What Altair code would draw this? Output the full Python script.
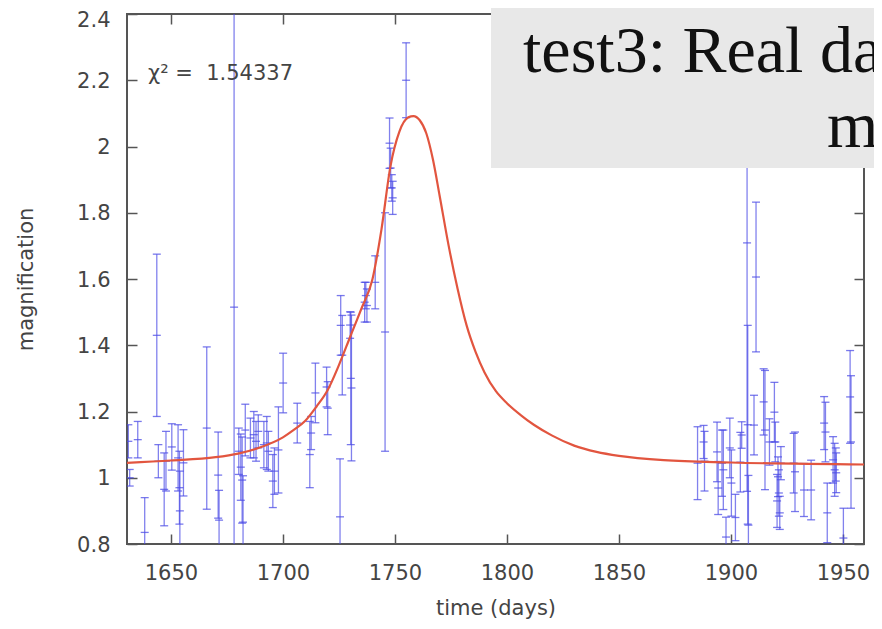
import altair as alt
import pandas as pd

# ---------------- data ----------------
days = [1631.0, 1631.6, 1635.2, 1638.3, 1643.7, 1644.4, 1647.0, 1647.8, 1650.4,
        1653.2, 1653.8, 1654.0, 1655.6, 1666.0, 1671.1, 1671.5, 1678.2,
        1680.3, 1681.2, 1681.8, 1682.2, 1683.2, 1685.5, 1687.0, 1688.0, 1689.0,
        1691.5, 1692.8, 1693.5, 1695.5, 1696.2, 1698.0, 1700.1, 1706.4,
        1712.0, 1712.6, 1714.5, 1719.5, 1720.0, 1725.5, 1725.8, 1726.5,
        1730.0, 1730.3, 1730.6, 1736.5, 1737.0, 1737.5, 1741.2, 1745.6,
        1747.6, 1748.1, 1748.6, 1749.0, 1755.0,
        1885.1, 1887.8, 1888.2, 1893.8, 1894.3, 1896.0, 1896.6, 1897.8,
        1899.5, 1900.2, 1902.0, 1904.2, 1904.8, 1907.2, 1907.5, 1907.8,
        1910.3, 1911.2, 1914.6, 1915.2, 1917.2, 1919.4, 1919.8, 1920.6,
        1921.0, 1921.4, 1921.8, 1922.3, 1928.0, 1928.6, 1932.6, 1935.8,
        1941.6, 1942.2, 1943.0, 1945.6, 1946.3, 1946.8, 1947.0, 1950.2,
        1953.2, 1953.6]
mags = [1.11, 1.00, 1.115, 0.835, 1.43, 1.05, 0.965, 1.05, 1.093,
        1.06, 0.97, 0.90, 1.045, 1.15, 1.008, 0.872, 1.515,
        1.08, 1.032, 0.993, 0.866, 1.144, 1.12, 1.13, 1.11, 1.14,
        1.10, 1.105, 1.08, 0.99, 1.02, 1.084, 1.286, 1.165,
        1.07, 1.135, 1.256, 1.274, 1.21, 0.882, 1.46, 1.37,
        1.461, 1.30, 1.271, 1.53, 1.55, 1.52, 1.59, 1.44,
        2.01, 1.935, 1.875, 1.845, 2.20,
        1.044, 1.108, 1.05, 1.078, 0.969, 1.044, 1.024, 0.821,
        1.09, 0.984, 0.88, 1.047, 1.129, 1.709, 1.16, 0.857,
        1.159, 1.606, 1.229, 1.144, 1.108, 1.198, 1.108, 0.93,
        1.003, 0.954, 0.894, 1.044, 1.044, 1.018, 0.963, 0.963,
        1.165, 1.138, 0.894, 1.054, 1.024, 1.04, 1.015, 0.818,
        1.244, 1.108]
errs = [0.05, 0.025, 0.055, 0.105, 0.245, 0.05, 0.11, 0.09, 0.07,
        0.10, 0.11, 0.12, 0.10, 0.245, 0.13, 0.09, 0.95,
        0.07, 0.10, 0.13, 0.14, 0.078, 0.06, 0.07, 0.06, 0.05,
        0.07, 0.08, 0.06, 0.08, 0.07, 0.13, 0.09, 0.06,
        0.10, 0.05, 0.09, 0.06, 0.08, 0.175, 0.09, 0.12,
        0.04, 0.20, 0.22, 0.06, 0.04, 0.05, 0.08, 0.36,
        0.076, 0.06, 0.04, 0.05, 0.113,
        0.11, 0.05, 0.09, 0.09, 0.08, 0.10, 0.12, 0.06,
        0.09, 0.10, 0.07, 0.09, 0.04, 0.75, 0.30, 0.15,
        0.09, 0.226, 0.10, 0.18, 0.07, 0.09, 0.06, 0.08,
        0.06, 0.07, 0.05, 0.05, 0.09, 0.12, 0.08, 0.09,
        0.08, 0.09, 0.09, 0.07, 0.08, 0.05, 0.06, 0.09,
        0.14, 0.20]

curve_days = [1630, 1650, 1670, 1680, 1690, 1700, 1705, 1710, 1715, 1720,
              1725, 1730, 1735, 1740, 1744, 1748, 1752, 1756, 1758.3, 1761,
              1764, 1767, 1770, 1774, 1778, 1782, 1786, 1790, 1795, 1800,
              1806, 1812, 1820, 1830, 1840, 1850, 1870, 1900, 1960]
curve_mags = [1.045, 1.052, 1.062, 1.073, 1.092, 1.122, 1.145, 1.172, 1.215, 1.265,
              1.34, 1.425, 1.51, 1.60, 1.75, 1.94, 2.045, 2.088, 2.092, 2.08,
              2.04, 1.96, 1.85, 1.70, 1.57, 1.46, 1.38, 1.318, 1.262, 1.225,
              1.19, 1.16, 1.128, 1.097, 1.078, 1.066, 1.053, 1.046, 1.040]

x_ticks = [1650, 1700, 1750, 1800, 1850, 1900, 1950]
y_ticks = [0.8, 1.0, 1.2, 1.4, 1.6, 1.8, 2.0, 2.2, 2.4]
x_domain = [1630.4, 1959.4]
y_domain = [0.8, 2.4]

chi_label = ["χ² =\u00a0\u00a01.54337"]
banner_line1 = ["test3: Real data"]
banner_line2 = ["mi"]

# ---------------- styling ----------------
SANS = "DejaVu Sans"
SERIF = "Liberation Serif"
AX = "#555555"
LAB = "#444444"
BLUE = "#4c4ce6"
RED = "#e2553f"

W, H = 737, 530

df = pd.DataFrame({"day": days, "mag": mags, "err": errs})
df["lo"] = df["mag"] - df["err"]
df["hi"] = df["mag"] + df["err"]
cdf = pd.DataFrame({"day": curve_days, "mag": curve_mags})

xs = alt.Scale(domain=x_domain, nice=False, zero=False)
ys = alt.Scale(domain=y_domain, nice=False, zero=False)

bottom_axis = alt.Axis(orient="bottom", values=x_ticks, offset=-10, tickSize=10,
                       tickColor=AX, tickWidth=1.5, domain=False, grid=False,
                       labelFont=SANS, labelFontSize=21, labelColor=LAB, labelPadding=18,
                       format="d", title="time (days)", titleFont=SANS, titleFontSize=21,
                       titleFontWeight="normal", titleColor=LAB, titlePadding=14)
left_axis = alt.Axis(orient="left", values=y_ticks, offset=-10, tickSize=10,
                     tickColor=AX, tickWidth=1.5, domain=False, grid=False,
                     labelFont=SANS, labelFontSize=21, labelColor=LAB, labelPadding=17,
                     labelOffset={"condition": {"test": "datum.value > 2.3", "value": 6},
                                  "value": 1},
                     format="~g", title="magnification", titleFont=SANS, titleFontSize=21,
                     titleFontWeight="normal", titleColor=LAB, titlePadding=40)
top_axis = alt.Axis(orient="top", values=x_ticks, offset=-10, tickSize=10,
                    tickColor=AX, tickWidth=1.5, domain=False, grid=False,
                    labels=False, title=None)
right_axis = alt.Axis(orient="right", values=y_ticks, offset=-10, tickSize=10,
                      tickColor=AX, tickWidth=1.5, domain=False, grid=False,
                      labels=False, title=None)

one = pd.DataFrame({"k": [0]})

frame = alt.Chart(one).mark_rect(fillOpacity=0, stroke=AX, strokeWidth=2).encode(
    x=alt.value(0), x2=alt.value(W), y=alt.value(0), y2=alt.value(H))

bars = alt.Chart(df).mark_rule(color=BLUE, strokeWidth=1.3, opacity=0.7, clip=True).encode(
    x=alt.X("day:Q", scale=xs, axis=bottom_axis),
    y=alt.Y("lo:Q", scale=ys, axis=left_axis),
    y2="hi:Q")

def ticks(field):
    return alt.Chart(df).mark_tick(orient="horizontal", size=8, thickness=1.3,
                                   color=BLUE, opacity=0.75, clip=True).encode(
        x=alt.X("day:Q", scale=xs, axis=None),
        y=alt.Y(f"{field}:Q", scale=ys, axis=None))

curve = alt.Chart(cdf).mark_line(color=RED, strokeWidth=2.2, interpolate="monotone",
                                 clip=True).encode(
    x=alt.X("day:Q", scale=xs, axis=top_axis),
    y=alt.Y("mag:Q", scale=ys, axis=right_axis))

box = alt.Chart(one).mark_rect(color="#e8e8e8").encode(
    x=alt.value(364), x2=alt.value(760), y=alt.value(-6), y2=alt.value(154))

line1 = alt.Chart(pd.DataFrame({"t": banner_line1})).mark_text(
    font=SERIF, fontSize=66, color="#111111", align="left", baseline="alphabetic").encode(
    x=alt.value(396), y=alt.value(58), text="t:N")
line2 = alt.Chart(pd.DataFrame({"t": banner_line2})).mark_text(
    font=SERIF, fontSize=66, color="#111111", align="left", baseline="alphabetic").encode(
    x=alt.value(700), y=alt.value(133), text="t:N")

chi = alt.Chart(pd.DataFrame({"t": chi_label})).mark_text(
    font=SANS, fontSize=21, color=LAB, align="left", baseline="alphabetic").encode(
    x=alt.value(21), y=alt.value(66), text="t:N")

chart = alt.layer(frame, bars, ticks("lo"), ticks("hi"), ticks("mag"), curve,
                  box, line1, line2, chi).resolve_axis(
    x="independent", y="independent").properties(
    width=W, height=H,
    padding={"left": 119, "top": 6, "right": 10, "bottom": 77},
    autosize=alt.AutoSizeParams(type="none"),
    background="white").configure_view(strokeWidth=0)

chart.save("out.html", embed_options={"renderer": "svg", "actions": False})
